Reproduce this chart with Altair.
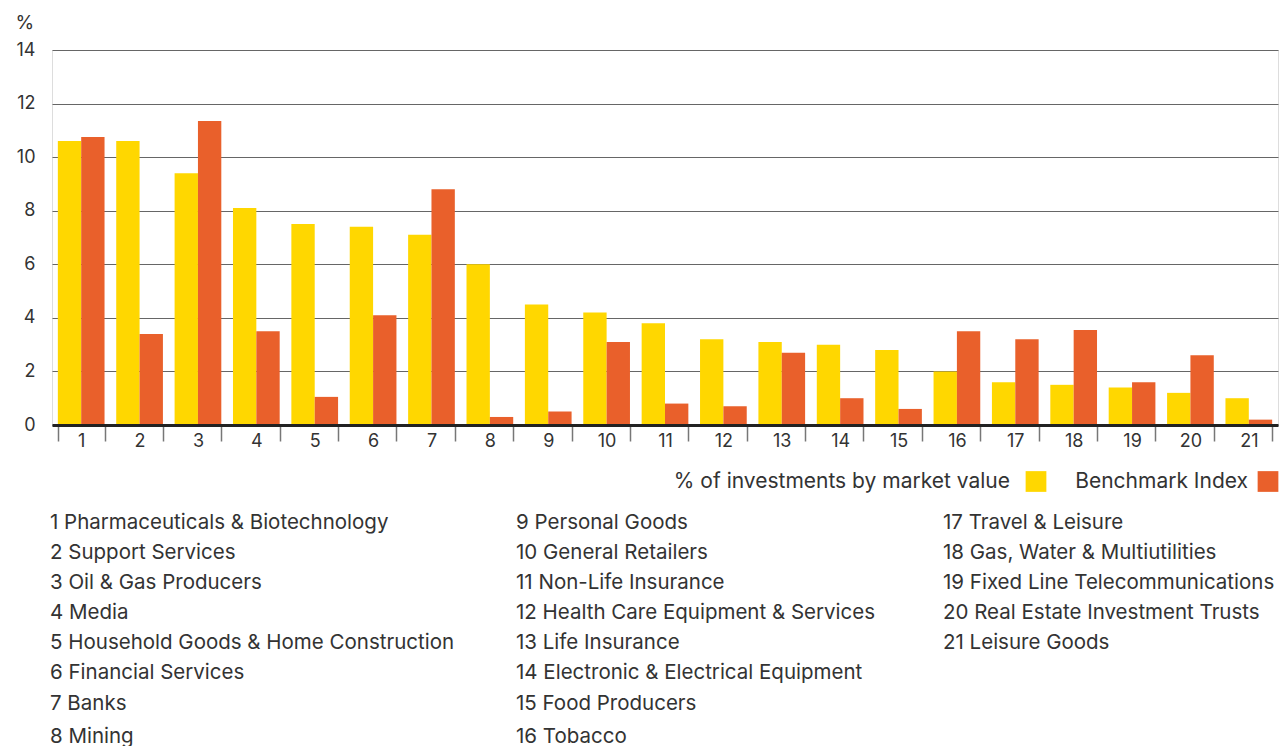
import altair as alt
import pandas as pd

# ---------------- data ----------------
categories = [str(i) for i in range(1, 22)]
sector_names = [
    "Pharmaceuticals & Biotechnology", "Support Services", "Oil & Gas Producers",
    "Media", "Household Goods & Home Construction", "Financial Services", "Banks",
    "Mining", "Personal Goods", "General Retailers", "Non-Life Insurance",
    "Health Care Equipment & Services", "Life Insurance",
    "Electronic & Electrical Equipment", "Food Producers", "Tobacco",
    "Travel & Leisure", "Gas, Water & Multiutilities",
    "Fixed Line Telecommunications", "Real Estate Investment Trusts", "Leisure Goods",
]
portfolio = [10.6, 10.6, 9.4, 8.1, 7.5, 7.4, 7.1, 6.0, 4.5, 4.2, 3.8,
             3.2, 3.1, 3.0, 2.8, 2.0, 1.6, 1.5, 1.4, 1.2, 1.0]
benchmark = [10.75, 3.4, 11.35, 3.5, 1.05, 4.1, 8.8, 0.3, 0.5, 3.1, 0.8,
             0.7, 2.7, 1.0, 0.6, 3.5, 3.2, 3.55, 1.6, 2.6, 0.2]
series_names = ["% of investments by market value", "Benchmark Index"]
y_ticks = [0, 2, 4, 6, 8, 10, 12, 14]

# ---------------- style / layout ----------------
colors = ["#FFD700", "#E9602B"]
FONT = "Inter"
TEXT = "#333333"
W, H = 1226, 375
PLOT_TOP = 49.5          # page y of plot top
PLOT_LEFT = 52           # page x of plot left
list_cols_x = [50, 516, 943]                       # page x of list columns
list_rows_y = [522, 552, 582, 612, 642, 672, 703, 736]  # page y of list rows
legend_y = 481
legend_text_right = [W - 268, W - 30]    # right ends of legend labels
legend_square_x = [W - 242, W - 10]      # centers of legend squares

# ---------------- tables ----------------
bar_rows = []
for c, p, b in zip(categories, portfolio, benchmark):
    bar_rows.append({"cat": c, "series": series_names[0], "value": p})
    bar_rows.append({"cat": c, "series": series_names[1], "value": b})
df_bars = pd.DataFrame(bar_rows)

list_rows = []
col_sizes = [8, 8, 5]
idx = 0
for ci, n in enumerate(col_sizes):
    for ri in range(n):
        num = categories[idx]
        label = f"{num} {sector_names[idx]}"
        if ci == 1 and len(num) == 1:
            label = "\u2007" + label
        list_rows.append({"x": list_cols_x[ci] - PLOT_LEFT,
                          "y": list_rows_y[ri] - PLOT_TOP,
                          "text": label})
        idx += 1
df_list = pd.DataFrame(list_rows)

df_leg = pd.DataFrame({
    "series": series_names,
    "tx": legend_text_right,
    "sx": legend_square_x,
    "y": [legend_y - PLOT_TOP] * 2,
})

px_x = alt.Scale(domain=[0, W], nice=False, zero=False)
px_y = alt.Scale(domain=[0, H], nice=False, zero=False, reverse=True)
color_scale = alt.Scale(domain=series_names, range=colors)

# ---------------- bars ----------------
bars = alt.Chart(df_bars).mark_bar().encode(
    x=alt.X("cat:N", sort=categories,
            scale=alt.Scale(paddingInner=0.2, paddingOuter=0.1),
            axis=alt.Axis(title=None, labelAngle=0, tickBand="extent",
                          tickSize=16, tickColor="#777777", tickWidth=1.5,
                          domainColor="#222222", domainWidth=3,
                          labelFontSize=18, labelColor=TEXT, labelPadding=-9,
                          labelFont=FONT, grid=False, zindex=1)),
    xOffset=alt.XOffset("series:N", sort=series_names,
                        scale=alt.Scale(paddingInner=0, paddingOuter=0)),
    y=alt.Y("value:Q", scale=alt.Scale(domain=[0, 14], nice=False),
            axis=alt.Axis(values=y_ticks, title="%", titleAngle=0,
                          titleX=-37, titleY=-18, titleAlign="left",
                          titleBaseline="bottom", titleFontSize=19,
                          titleFontWeight="normal", titleColor=TEXT,
                          titleFont=FONT, labelFont=FONT,
                          labelFontSize=18, labelColor=TEXT, labelPadding=17,
                          ticks=False, domain=False,
                          gridColor="#666666", gridWidth=1.2)),
    color=alt.Color("series:N", scale=color_scale, legend=None),
)

legend_text = alt.Chart(df_leg).mark_text(
    align="right", baseline="middle", font=FONT, fontSize=21, color=TEXT
).encode(
    x=alt.X("tx:Q", scale=px_x, axis=None),
    y=alt.Y("y:Q", scale=px_y, axis=None),
    text="series:N",
)

legend_sq = alt.Chart(df_leg).mark_square(size=430, opacity=1).encode(
    x=alt.X("sx:Q", scale=px_x, axis=None),
    y=alt.Y("y:Q", scale=px_y, axis=None),
    color=alt.Color("series:N", scale=color_scale, legend=None),
)

list_text = alt.Chart(df_list).mark_text(
    align="left", baseline="middle", font=FONT, fontSize=20.5, color=TEXT
).encode(
    x=alt.X("x:Q", scale=px_x, axis=None),
    y=alt.Y("y:Q", scale=px_y, axis=None),
    text="text:N",
)

chart = alt.layer(bars, legend_text, legend_sq, list_text).resolve_scale(
    x="independent", y="independent"
).properties(
    width=W, height=H,
    padding={"left": 7, "top": 5, "right": 0, "bottom": 0},
).configure_view(stroke=None).configure(font=FONT)

chart.save("out.html", embed_options={"renderer": "svg", "actions": False})
